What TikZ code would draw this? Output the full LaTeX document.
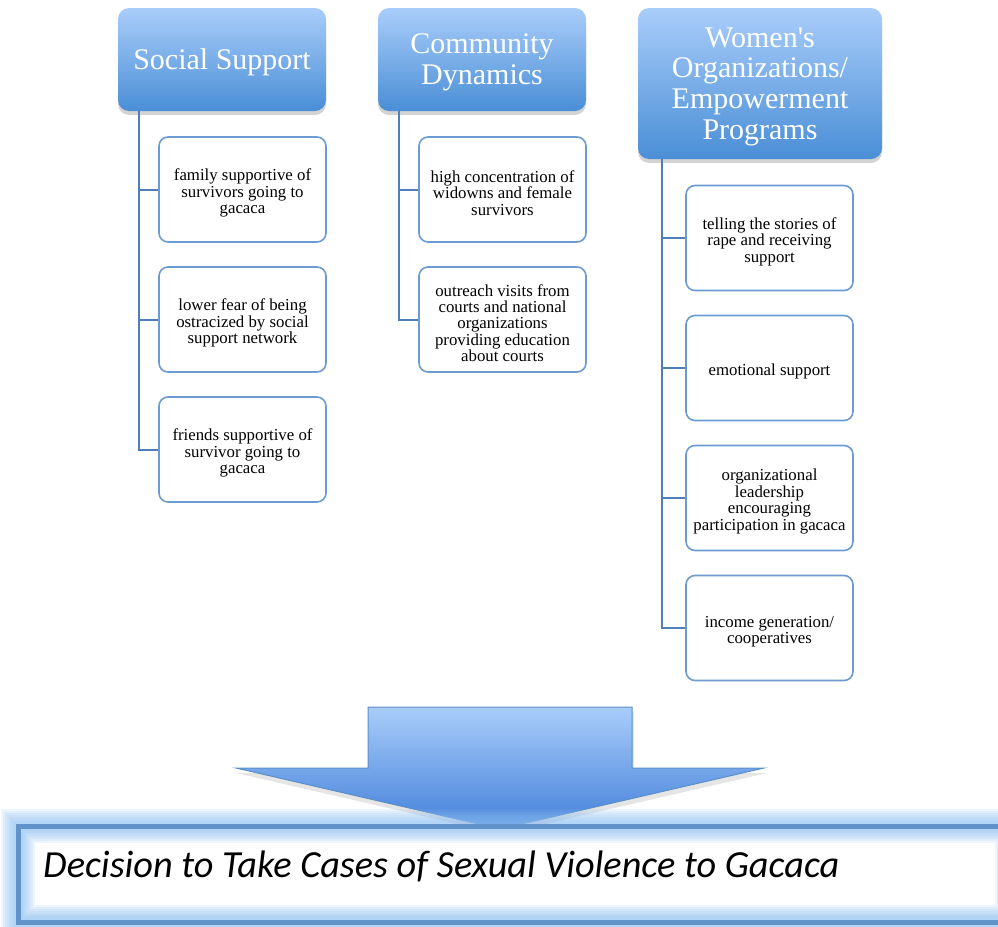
\documentclass[tikz,border=0pt]{standalone}
\usepackage{fontspec}
\setmainfont{Liberation Serif}
\newfontfamily\plainserif{Liberation Serif}
\newfontfamily\carl{Carlito}
\usetikzlibrary{shadows,calc}
\definecolor{htop}{HTML}{A9CDFA}
\definecolor{hbot}{HTML}{4A8ED6}
\definecolor{connc}{HTML}{4F7FB8}
\definecolor{childc}{HTML}{6C9BD2}
\definecolor{glowc}{HTML}{8FC0F2}
\definecolor{borderc}{HTML}{6193CB}
\definecolor{arrowc}{HTML}{5B8FC8}
\tikzset{
  head/.style={rounded corners=11pt, top color=htop, bottom color=hbot,
    inner sep=0pt,
    drop shadow={opacity=0.35, shadow xshift=0pt, shadow yshift=-4pt}},
  headtext/.style={text=white, align=center, inner sep=0pt,
    font=\plainserif\fontsize{30}{30.7}\selectfont},
  child/.style={draw=childc, line width=1.6pt, fill=white, rounded corners=9pt,
    minimum width=167pt, minimum height=105pt, inner sep=0pt},
  childtext/.style={align=center, inner sep=0pt,
    font=\plainserif\fontsize{16.8}{16.4}\selectfont},
  conn/.style={draw=connc, line width=2pt},
}
\newcommand{\childbox}[4]{%
  \node[child] (#1) at (#2,#3) {};
  \node[childtext] (#1t) at (#2,#3+3.5) {#4};}
\begin{document}
\begin{tikzpicture}[x=1pt,y=-1pt]
\useasboundingbox (0,0) rectangle (998,926);
% headers
\node[head, minimum width=208pt, minimum height=103pt] (h1) at (222,59.5) {};
\node[headtext] (h1t) at (222,62.5) {Social Support};
\node[head, minimum width=208pt, minimum height=103pt] (h2) at (482,59.5) {};
\node[headtext] (h2t) at (482,62) {Community\\Dynamics};
\node[head, minimum width=244pt, minimum height=151pt] (h3) at (760,83.5) {};
\node[headtext] (h3t) at (760,86.5) {Women's\\Organizations/\\Empowerment\\Programs};
% children
\childbox{a1}{242.5}{189.5}{family supportive of\\survivors going to\\gacaca}
\childbox{a2}{242.5}{319.5}{lower fear of being\\ostracized by social\\support network}
\childbox{a3}{242.5}{449.5}{friends supportive of\\survivor going to\\gacaca}
\childbox{b1}{502.5}{189.5}{high concentration of\\widowns and female\\survivors}
\childbox{b2}{502.5}{319.5}{outreach visits from\\courts and national\\organizations\\providing education\\about courts}
\childbox{c1}{769.5}{238}{telling the stories of\\rape and receiving\\support}
\childbox{c2}{769.5}{368}{emotional support}
\childbox{c3}{769.5}{498}{organizational\\leadership\\encouraging\\participation in gacaca}
\childbox{c4}{769.5}{628}{income generation/\\cooperatives}
% connectors
\path (h1.south west) ++(21,0) coordinate (t1);
\path (h2.south west) ++(21,0) coordinate (t2);
\path (h3.south west) ++(24,0) coordinate (t3);
\draw[conn] (t1) |- (a1.west) (t1) |- (a2.west) (t1) |- (a3.west);
\draw[conn] (t2) |- (b1.west) (t2) |- (b2.west);
\draw[conn] (t3) |- (c1.west) (t3) |- (c2.west) (t3) |- (c3.west) (t3) |- (c4.west);
% arrow
\fill[black, opacity=0.10] (368,712) -- (634,712) -- (634,773) -- (767,773) -- (501,834) -- (236,773) -- (368,773) -- cycle;
\path[top color=htop, bottom color=hbot!90!blue, draw=arrowc, line width=1pt]
  (368,707) -- (632,707) -- (632,768) -- (764,768) -- (500,829) -- (236,768) -- (368,768) -- cycle;
% bottom box
\fill[white] (18,826) rectangle (1012,922);
\foreach \w in {34,30,26,22,18,14,10} {
  \draw[glowc, opacity=0.15, line width=\w pt] (18,826) rectangle (1012,922);
}
\draw[borderc, line width=5pt] (18,826) rectangle (1012,922);
\node[anchor=base west, inner sep=0pt, font=\carl\itshape\fontsize{38.3}{42}\selectfont] (d) at (43,877) {Decision to Take Cases of Sexual Violence to Gacaca};
\end{tikzpicture}
\end{document}
